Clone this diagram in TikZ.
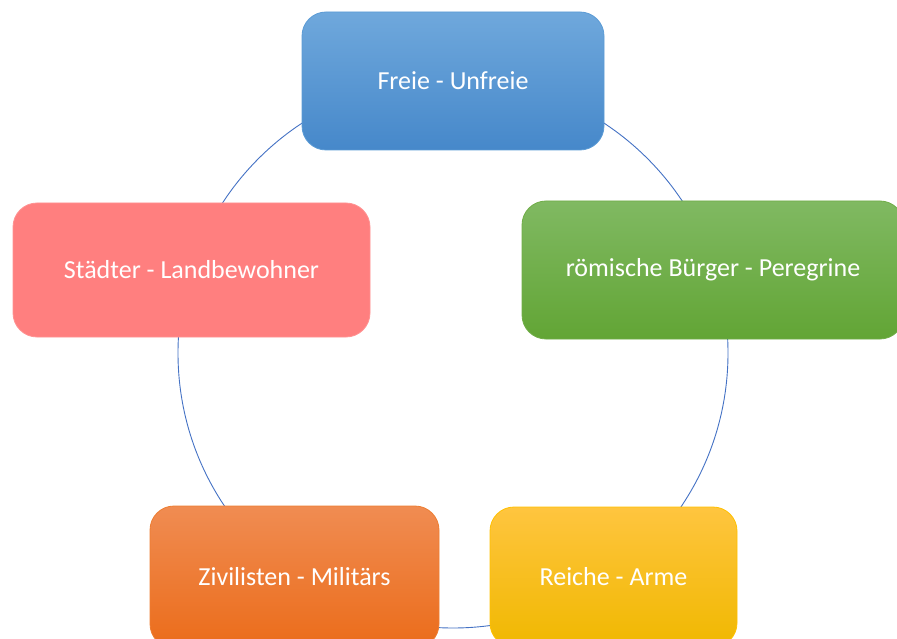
\documentclass[tikz,border=0pt]{standalone}
\usepackage{fontspec}
\setmainfont{Carlito}
\definecolor{ringblue}{HTML}{4472C4}
\definecolor{bluetop}{HTML}{6FA8DC}
\definecolor{bluebot}{HTML}{4688CA}
\definecolor{bluebd}{HTML}{5B9BD5}
\definecolor{greentop}{HTML}{80B962}
\definecolor{greenbot}{HTML}{62A535}
\definecolor{greenbd}{HTML}{70AD47}
\definecolor{redfill}{HTML}{FF7F7F}
\definecolor{orangetop}{HTML}{F08C52}
\definecolor{orangebot}{HTML}{EB6C1A}
\definecolor{orangebd}{HTML}{ED7D31}
\definecolor{yellowtop}{HTML}{FFC53F}
\definecolor{yellowbot}{HTML}{F0B800}
\definecolor{yellowbd}{HTML}{FFC000}
\tikzset{
  box/.style={rounded corners=24pt, inner sep=0pt, text=white,
    font=\fontsize{26}{30}\selectfont, line width=0.8pt},
  ring/.style={draw=ringblue, line width=0.9pt, circle, inner sep=0pt}
}
\begin{document}
\begin{tikzpicture}[x=1pt,y=-1pt]
\useasboundingbox (0,0) rectangle (897,639);
\clip (0,0) rectangle (897,639);
\node[ring, minimum size=550pt] (circ) at (453,353) {};
\node[box, draw=bluebd, top color=bluetop, bottom color=bluebot,
  minimum width=302pt, minimum height=138pt] (top) at (453,81) {Freie - Unfreie};
\node[box, draw=greenbd, top color=greentop, bottom color=greenbot,
  minimum width=382pt, minimum height=138pt] (right) at (713,270) {römische Bürger - Peregrine};
\node[box, draw=redfill!85!white, fill=redfill,
  minimum width=357pt, minimum height=134pt] (left) at (191.5,270) {Städter - Landbewohner};
\node[box, draw=orangebd, top color=orangetop, bottom color=orangebot,
  minimum width=289pt, minimum height=142pt] (botleft) at (294.5,577) {Zivilisten - Militärs};
\node[box, draw=yellowbd, top color=yellowtop, bottom color=yellowbot,
  minimum width=247pt, minimum height=140pt] (botright) at (613.5,577) {Reiche - Arme};
\end{tikzpicture}
\end{document}
